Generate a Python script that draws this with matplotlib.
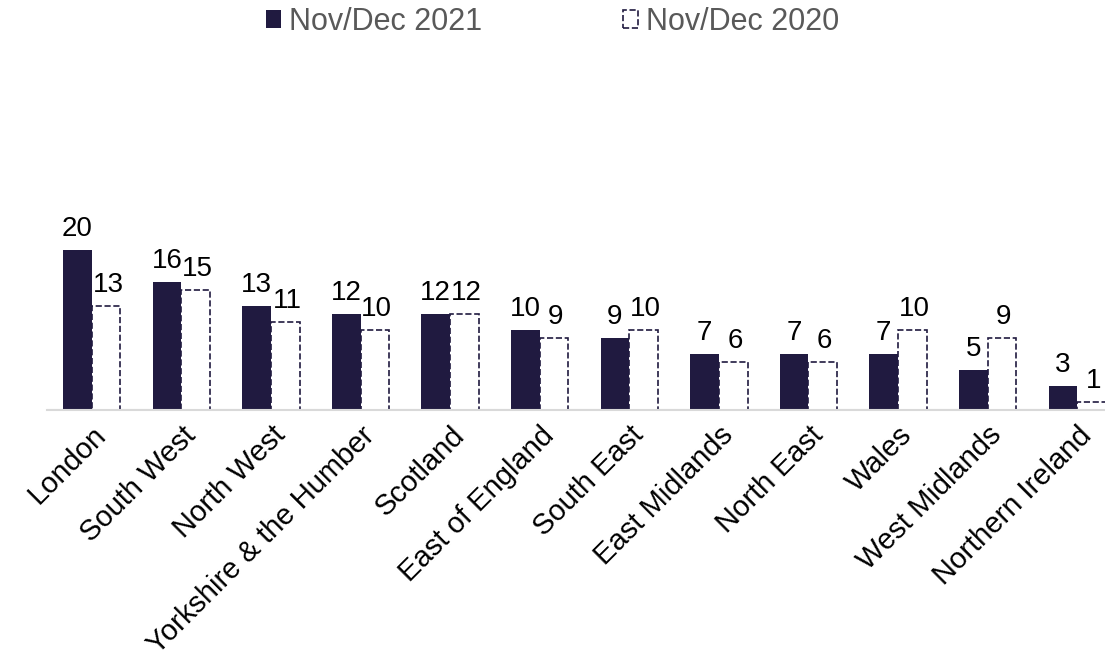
import matplotlib.pyplot as plt
import numpy as np

plt.rcParams['font.family'] = ['Liberation Sans', 'DejaVu Sans']

regions = ['London', 'South West', 'North West', 'Yorkshire & the Humber', 'Scotland',
           'East of England', 'South East', 'East Midlands', 'North East', 'Wales',
           'West Midlands', 'Northern Ireland']
y2021 = [20, 16, 13, 12, 12, 10, 9, 7, 7, 7, 5, 3]
y2020 = [13, 15, 11, 10, 12, 9, 10, 6, 6, 10, 9, 1]

dark = '#201a40'

fig = plt.figure(figsize=(11.05, 6.65), dpi=100)
ax = fig.add_axes([47 / 1105, 255 / 665, 1 - 47 / 1105, 310 / 665])

x = np.arange(len(regions))
w = 0.32
b1 = ax.bar(x - w / 2, y2021, w, color=dark, label='Nov/Dec 2021')
b2 = ax.bar(x + w / 2, y2020, w, facecolor='white', edgecolor=dark, linestyle='--',
            linewidth=1.2, label='Nov/Dec 2020')

# value labels above each bar
for xi, v in zip(x - w / 2, y2021):
    ax.text(xi, v + 1, str(v), ha='center', va='bottom', fontsize=20, color='black')
for xi, v in zip(x + w / 2, y2020):
    ax.text(xi + 0.02, v + 1, str(v), ha='center', va='bottom', fontsize=20, color='black')

ax.set_xlim(-0.5, 11.31)
ax.set_ylim(0, 38.75)
ax.set_yticks([])
for s in ['top', 'right', 'left']:
    ax.spines[s].set_visible(False)
ax.spines['bottom'].set_color('#d9d9d9')
ax.spines['bottom'].set_linewidth(1.5)
ax.axhline(0, color='#d9d9d9', lw=1.5, zorder=0.5)

ax.set_xticks(x)
ax.set_xticklabels(regions, rotation=45, ha='right', rotation_mode='anchor', fontsize=21)
ax.tick_params(axis='x', length=0, pad=8)

leg = fig.legend(handles=[b1, b2], loc='center', bbox_to_anchor=(0.5, 1 - 22 / 665), ncol=2,
                 frameon=False, fontsize=22, handlelength=0.5, handleheight=0.5,
                 handletextpad=0.25, columnspacing=4.6, borderpad=0)
for t in leg.get_texts():
    t.set_color('#595959')

fig.savefig('out.png', dpi=100)
